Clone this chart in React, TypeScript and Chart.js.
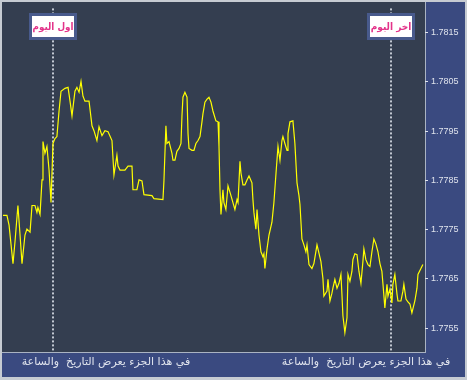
import React, { useEffect, useRef } from "react";
import { Chart, registerables } from "chart.js";
Chart.register(...registerables);

const hours = [
  -3.55, -3.27, -3.12, -2.84, -2.7, -2.49, -2.34, -2.2, -1.99, -1.85,
  -1.63, -1.49, -1.28, -1.14, -1.07, -0.92, -0.78, -0.71, -0.57, -0.43,
  -0.28, -0.14, 0, 0.14, 0.28, 0.43, 0.57, 0.85, 1.07, 1.21,
  1.35, 1.56, 1.7, 1.85, 1.99, 2.13, 2.27, 2.56, 2.77, 2.91,
  3.12, 3.27, 3.48, 3.69, 3.91, 4.19, 4.33, 4.54, 4.62, 4.76,
  5.11, 5.33, 5.61, 5.68, 5.96, 6.11, 6.32, 6.46, 7.03, 7.17,
  7.81,
  7.88, 8.02, 8.09, 8.24, 8.45, 8.52, 8.66, 8.8, 8.95, 9.09,
  9.16, 9.23, 9.37, 9.52, 9.59, 9.66, 9.87, 10.01, 10.15, 10.3,
  10.44, 10.58, 10.65, 10.79, 10.94, 11.08, 11.22, 11.36, 11.57, 11.72,
  11.79, 11.86, 11.93, 12.07, 12.14, 12.28, 12.43, 12.64, 12.78, 12.92,
  13.07, 13.14, 13.28, 13.35, 13.49, 13.63, 13.78, 13.92, 14.13, 14.2,
  14.27, 14.41, 14.49, 14.63, 14.77, 14.91, 14.98, 15.05, 15.2, 15.34,
  15.55, 15.69, 15.84, 15.98, 16.12, 16.26, 16.33, 16.47, 16.62, 16.69,
  16.83, 17.04, 17.18, 17.33, 17.47,
  17.54, 17.68, 17.82, 17.96, 18.04, 18.18, 18.39, 18.53, 18.75, 18.82,
  19.03, 19.17, 19.24, 19.46, 19.53, 19.67, 19.81, 19.88, 20.02, 20.17,
  20.31, 20.45, 20.52, 20.59, 20.73, 20.88, 20.95, 21.09, 21.23, 21.3,
  21.44, 21.59, 21.73, 21.87, 22.01, 22.08, 22.22, 22.37, 22.51, 22.65,
  22.79, 22.93, 23.08, 23.22, 23.36, 23.43, 23.57, 23.72, 23.79, 23.93,
  24.07, 24.14, 24.28, 24.43, 24.5, 24.71, 24.85, 24.92, 25.07, 25.21,
  25.35, 25.49, 25.56, 25.7, 25.85, 25.92, 26.13, 26.27,
];

const prices = [
  1.77779, 1.77779, 1.77759, 1.77681, 1.77725, 1.77799, 1.77739, 1.77681, 1.77739, 1.77751,
  1.77745, 1.77799, 1.77799, 1.77785, 1.77795, 1.77781, 1.77851, 1.77929, 1.77905, 1.77919,
  1.77871, 1.77805, 1.77925, 1.77935, 1.77939, 1.77991, 1.78031, 1.78037, 1.78039, 1.78011,
  1.77981, 1.78031, 1.78039, 1.78029, 1.78051, 1.78021, 1.78011, 1.78011, 1.77961, 1.77951,
  1.77931, 1.77959, 1.77941, 1.77951, 1.77949, 1.77931, 1.77861, 1.77901, 1.77879, 1.77871,
  1.77871, 1.77879, 1.77879, 1.77831, 1.77831, 1.77851, 1.77849, 1.77821, 1.77819, 1.77813,
  1.77811,
  1.77849, 1.77961, 1.77925, 1.77929, 1.77905, 1.77891, 1.77891, 1.77909, 1.77915, 1.77925,
  1.77981, 1.78019, 1.78029, 1.78019, 1.77945, 1.77915, 1.77911, 1.77911, 1.77925, 1.77931,
  1.77939, 1.77969, 1.77985, 1.78009, 1.78015, 1.78019, 1.78009, 1.77991, 1.77971, 1.77969,
  1.77919, 1.77831, 1.77781, 1.77831, 1.77805, 1.77791, 1.77839, 1.77819, 1.77805, 1.77791,
  1.77811, 1.77805, 1.77889, 1.77865, 1.77841, 1.77841, 1.77851, 1.77859, 1.77845, 1.77811,
  1.77785, 1.77751, 1.77791, 1.77739, 1.77705, 1.77695, 1.77701, 1.77671, 1.77711, 1.77739,
  1.77765, 1.77805, 1.77865, 1.77919, 1.77891, 1.77931, 1.77939, 1.77925, 1.77911, 1.77945,
  1.77969, 1.77971, 1.77925, 1.77845, 1.77819,
  1.77801, 1.77731, 1.77719, 1.77705, 1.77719, 1.77679, 1.77671, 1.77681, 1.77719, 1.77719,
  1.77685, 1.77651, 1.77615, 1.77625, 1.77649, 1.77605, 1.77621, 1.77631, 1.77649, 1.77631,
  1.77641, 1.77659, 1.77619, 1.77575, 1.77541, 1.77571, 1.77659, 1.77645, 1.77665, 1.77689,
  1.77701, 1.77699, 1.77665, 1.77641, 1.77685, 1.77711, 1.77689, 1.77679, 1.77675, 1.77705,
  1.77731, 1.77721, 1.77705, 1.77681, 1.77665, 1.77641, 1.77591, 1.77639, 1.77615, 1.77629,
  1.77601, 1.77639, 1.77659, 1.77619, 1.77605, 1.77605, 1.77625, 1.77639, 1.77609, 1.77603,
  1.77599, 1.77581, 1.77589, 1.77605, 1.77631, 1.77659, 1.77671, 1.77679,
];

const priceTicks = [1.7755, 1.7765, 1.7775, 1.7785, 1.7795, 1.7805, 1.7815];
const dayMarkerHours = [0, 24];
const dayMarkerLabels = ["اول اليوم", "اخر اليوم"];
const timeLabelHours = [3.76, 22.23];
const timeLabelTexts = [
  "في هذا الجزء يعرض التاريخ  والساعة",
  "في هذا الجزء يعرض التاريخ  والساعة",
];

const COLORS = {
  outer: "#c6cbd2",
  panel: "#3a4a80",
  plot: "#343e50",
  separator: "#aab3c2",
  line: "#ffff00",
  text: "#dfe3ec",
  dotted: "#c2c8d2",
  boxBorder: "#485a8c",
  boxText: "#e3338a",
};

export default function App() {
  const ref = useRef<HTMLCanvasElement>(null);

  useEffect(() => {
    if (!ref.current) return;

    const framePlugin = {
      id: "frame",
      beforeDraw(chart: any) {
        const { ctx, width, height, chartArea } = chart;
        ctx.save();
        ctx.fillStyle = COLORS.outer;
        ctx.fillRect(0, 0, width, height);
        ctx.fillStyle = COLORS.panel;
        ctx.fillRect(2, 2, width - 4, height - 5);
        ctx.fillStyle = COLORS.plot;
        ctx.fillRect(2, 2, chartArea.right - 2, chartArea.bottom - 2);
        ctx.strokeStyle = COLORS.separator;
        ctx.lineWidth = 1;
        ctx.beginPath();
        ctx.moveTo(chartArea.right + 0.5, 2);
        ctx.lineTo(chartArea.right + 0.5, chartArea.bottom + 1);
        ctx.moveTo(2, chartArea.bottom + 0.5);
        ctx.lineTo(chartArea.right + 1, chartArea.bottom + 0.5);
        ctx.stroke();
        ctx.restore();
      },
      beforeDatasetsDraw(chart: any) {
        const { ctx, chartArea, scales } = chart;
        ctx.save();
        ctx.strokeStyle = COLORS.dotted;
        ctx.lineWidth = 2;
        ctx.setLineDash([2, 2]);
        dayMarkerHours.forEach((h) => {
          const x = Math.round(scales.x.getPixelForValue(h));
          ctx.beginPath();
          ctx.moveTo(x, chartArea.top);
          ctx.lineTo(x, chartArea.bottom);
          ctx.stroke();
        });
        ctx.restore();
      },
      afterDatasetsDraw(chart: any) {
        const { ctx, scales } = chart;
        ctx.save();
        dayMarkerHours.forEach((h, i) => {
          const cx = Math.round(scales.x.getPixelForValue(h));
          const w = 48;
          const hgt = 27;
          const left = cx - w / 2;
          const top = 13;
          ctx.fillStyle = COLORS.boxBorder;
          ctx.fillRect(left, top, w, hgt);
          ctx.fillStyle = "#ffffff";
          ctx.fillRect(left + 3, top + 3, w - 6, hgt - 6);
          ctx.fillStyle = COLORS.boxText;
          ctx.font = "bold 10px 'DejaVu Sans Condensed', 'DejaVu Sans'";
          ctx.textAlign = "center";
          ctx.textBaseline = "middle";
          ctx.fillText(dayMarkerLabels[i], cx, top + hgt / 2 + 1, 41);
        });
        ctx.restore();
      },
    };

    const chart = new Chart(ref.current, {
      type: "line",
      data: {
        datasets: [
          {
            data: hours.map((h, i) => ({ x: h, y: prices[i] })),
            borderColor: COLORS.line,
            borderWidth: 1.2,
            pointRadius: 0,
            tension: 0,
            fill: false,
          },
        ],
      },
      options: {
        animation: false,
        responsive: false,
        maintainAspectRatio: false,
        layout: { padding: { left: 3, top: 3, right: 2, bottom: 3 } },
        plugins: { legend: { display: false }, tooltip: { enabled: false } },
        scales: {
          x: {
            type: "linear",
            position: "bottom",
            min: -3.55,
            max: 26.42,
            grid: { display: false, drawTicks: false },
            border: { display: false },
            afterFit: (s: any) => {
              s.height = 25;
            },
            afterBuildTicks: (s: any) => {
              s.ticks = timeLabelHours.map((v) => ({ value: v }));
            },
            ticks: {
              autoSkip: false,
              maxRotation: 0,
              minRotation: 0,
              color: COLORS.text,
              font: { family: "'DejaVu Sans'", size: 11 },
              padding: 4,
              callback: (_v: any, idx: number) => timeLabelTexts[idx],
            },
          },
          y: {
            type: "linear",
            position: "right",
            min: 1.775014,
            max: 1.781994,
            afterFit: (s: any) => {
              s.width = 40;
            },
            afterBuildTicks: (s: any) => {
              s.ticks = priceTicks.map((v) => ({ value: v }));
            },
            grid: {
              drawOnChartArea: false,
              drawTicks: true,
              tickLength: 3,
              color: COLORS.text,
            },
            border: { display: false },
            ticks: {
              color: COLORS.text,
              font: { family: "'Liberation Sans'", size: 9 },
              padding: 3,
              callback: (v: any) => Number(v).toFixed(4),
            },
          },
        },
      },
      plugins: [framePlugin],
    } as any);

    return () => chart.destroy();
  }, []);

  return (
    <div style={{ position: "fixed", left: 0, top: 0, width: 467, height: 380 }}>
      <canvas ref={ref} width={467} height={380} style={{ display: "block" }} />
    </div>
  );
}
